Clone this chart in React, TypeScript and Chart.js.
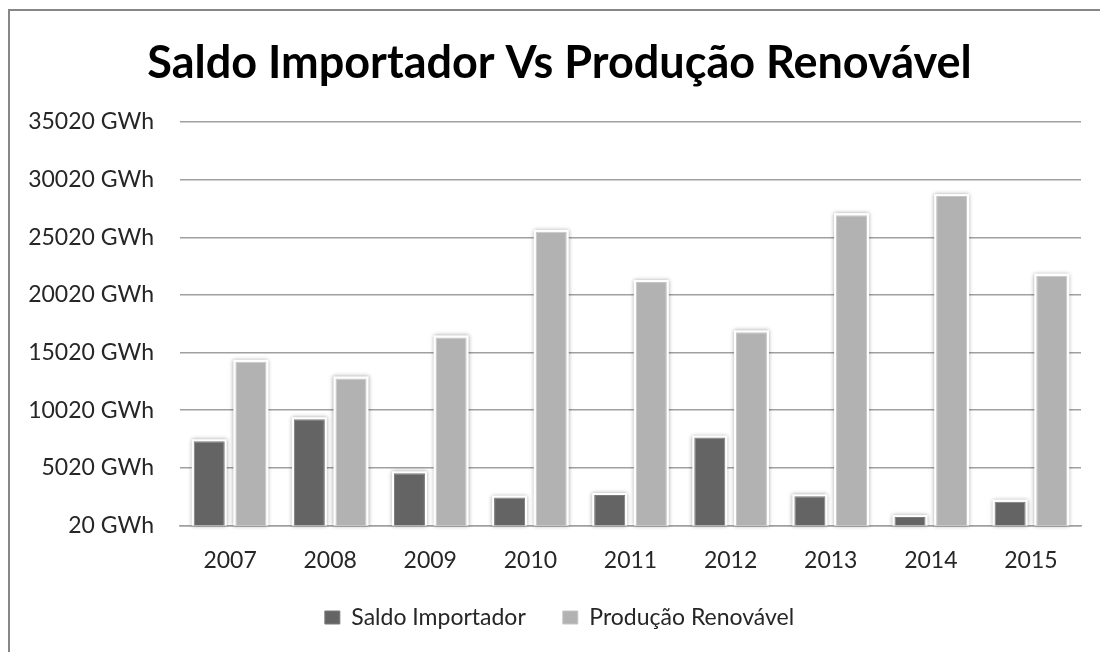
import React, { useEffect, useRef } from "react";
import { Chart, registerables } from "chart.js";

Chart.register(...registerables);

const years = ["2007", "2008", "2009", "2010", "2011", "2012", "2013", "2014", "2015"];
const saldoImportador = [7320, 9230, 4540, 2430, 2650, 7640, 2540, 740, 2080];
const producaoRenovavel = [14210, 12770, 16330, 25490, 21140, 16770, 26940, 28590, 21690];
const titleText = "Saldo Importador Vs Produção Renovável";
const seriesNames = ["Saldo Importador", "Produção Renovável"];

const barGlow = {
  id: "barGlow",
  beforeDatasetsDraw(chart: any) {
    const ctx = chart.ctx;
    ctx.save();
    chart.data.datasets.forEach((_ds: any, i: number) => {
      const meta = chart.getDatasetMeta(i);
      meta.data.forEach((bar: any) => {
        const { x, y, base, width } = bar.getProps(["x", "y", "base", "width"], true);
        ctx.shadowColor = "rgba(0,0,0,0.35)";
        ctx.shadowBlur = 4;
        ctx.fillStyle = "#ffffff";
        ctx.fillRect(x - width / 2 - 2, y - 2, width + 4, base - y + 2);
      });
    });
    ctx.restore();
  },
};

// nudge title and legend to match the reference placement
const shiftBlocks = {
  id: "shiftBlocks",
  afterLayout(chart: any) {
    if (chart.titleBlock) {
      chart.titleBlock.left += 14;
      chart.titleBlock.right += 14;
    }
    if (chart.legend) {
      chart.legend.left += 14;
      chart.legend.right += 14;
      chart.legend.top -= 18;
      chart.legend.bottom -= 18;
    }
  },
};

export default function App() {
  const ref = useRef<HTMLCanvasElement>(null);
  useEffect(() => {
    if (!ref.current) return;
    const chart = new Chart(ref.current, {
      type: "bar",
      data: {
        labels: years,
        datasets: [
          {
            label: seriesNames[0],
            data: saldoImportador,
            backgroundColor: "#646464",
            borderColor: "#7a7a7a",
            borderWidth: 1,
          },
          {
            label: seriesNames[1],
            data: producaoRenovavel,
            backgroundColor: "#b2b2b2",
            borderColor: "#c6c6c6",
            borderWidth: 1,
          },
        ],
      },
      options: {
        responsive: false,
        animation: false,
        datasets: {
          bar: { categoryPercentage: 0.832, barPercentage: 0.745 },
        },
        layout: { padding: { left: 0, right: 19, top: 0, bottom: -5 } },
        plugins: {
          title: {
            display: true,
            text: titleText,
            color: "#000000",
            font: { family: "Lato", size: 45, weight: "bold" },
            padding: { top: 25, bottom: 32 },
          },
          legend: {
            position: "bottom",
            labels: {
              color: "#262626",
              font: { family: "Lato", size: 23 },
              boxWidth: 15,
              boxHeight: 13,
              padding: 37,
            },
          },
          tooltip: { enabled: false },
        },
        scales: {
          x: {
            grid: { display: false },
            border: { display: true, color: "#a0a0a0", width: 1.5 },
            ticks: {
              color: "#262626",
              font: { family: "Lato", size: 23 },
              padding: 13,
            },
          },
          y: {
            min: 20,
            max: 35020,
            afterFit: (s: any) => {
              s.width = 170;
            },
            ticks: {
              stepSize: 5000,
              color: "#262626",
              font: { family: "Lato", size: 23 },
              padding: 26,
              callback: (v: any) => `${v} GWh`,
            },
            grid: { color: "#a0a0a0", lineWidth: 1.5, drawTicks: false },
            border: { display: false },
          },
        },
      },
      plugins: [barGlow, shiftBlocks],
    });
    return () => chart.destroy();
  }, []);

  return (
    <div style={{ position: "absolute", left: 0, top: 0, width: 1100, height: 652, background: "#fff", overflow: "hidden" }}>
      <div
        style={{
          position: "absolute",
          left: 8,
          top: 9,
          width: 1092,
          height: 643,
          borderLeft: "2px solid #878787",
          borderTop: "2px solid #878787",
        }}
      >
        <canvas ref={ref} width={1090} height={641} style={{ display: "block" }} />
      </div>
    </div>
  );
}
